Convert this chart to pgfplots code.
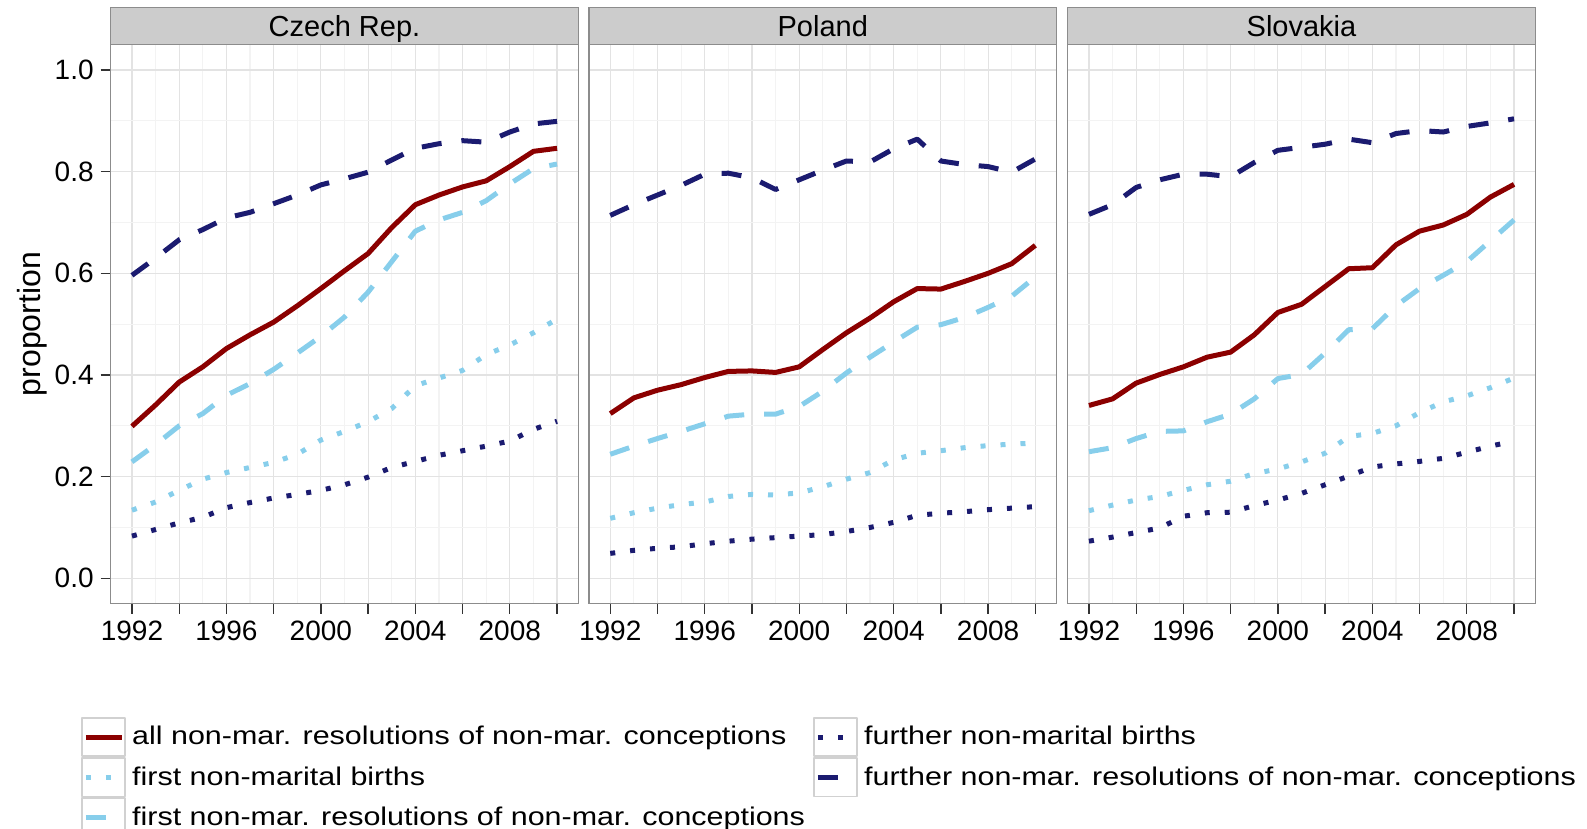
\documentclass[border=0pt]{standalone}
\usepackage{fontspec}
\setmainfont{Liberation Sans}
\newfontfamily\legendfont[FakeStretch=1.19]{Liberation Sans}
\usepackage{pgfplots}
\usepackage{pgfplotstable}
\pgfplotsset{compat=1.18}
\definecolor{cred}{HTML}{8B0000}
\definecolor{csky}{HTML}{87CEEB}
\definecolor{cnavy}{HTML}{1B1B70}
\definecolor{gmaj}{HTML}{E3E3E3}
\definecolor{gmin}{HTML}{F3F3F3}
\definecolor{cframe}{HTML}{8C8C8C}
\definecolor{cstrip}{HTML}{CCCCCC}

% year, all non-mar. resolutions, first births, first resolutions, further births, further resolutions
\pgfplotstableread{
year all fb fr nb nr
1992 0.299 0.134 0.229 0.083 0.596
1993 0.341 0.150 0.263 0.096 0.630
1994 0.386 0.173 0.300 0.109 0.666
1995 0.416 0.195 0.324 0.120 0.686
1996 0.452 0.208 0.360 0.139 0.709
1997 0.479 0.218 0.383 0.149 0.720
1998 0.504 0.228 0.411 0.158 0.737
1999 0.536 0.244 0.443 0.165 0.754
2000 0.570 0.272 0.476 0.173 0.774
2001 0.605 0.289 0.514 0.184 0.786
2002 0.639 0.308 0.563 0.199 0.799
2003 0.690 0.334 0.623 0.218 0.823
2004 0.735 0.379 0.683 0.230 0.846
2005 0.754 0.394 0.705 0.242 0.855
2006 0.770 0.409 0.720 0.251 0.861
2007 0.782 0.440 0.743 0.260 0.858
2008 0.810 0.459 0.776 0.270 0.878
2009 0.840 0.483 0.806 0.293 0.894
2010 0.846 0.510 0.815 0.309 0.899
}\czech

\pgfplotstableread{
year all fb fr nb nr
1992 0.324 0.118 0.244 0.049 0.714
1993 0.355 0.129 0.260 0.055 0.735
1994 0.370 0.138 0.275 0.059 0.754
1995 0.381 0.145 0.289 0.062 0.773
1996 0.395 0.150 0.304 0.068 0.795
1997 0.407 0.161 0.319 0.073 0.797
1998 0.408 0.165 0.323 0.077 0.788
1999 0.405 0.164 0.323 0.080 0.765
2000 0.416 0.168 0.338 0.083 0.784
2001 0.450 0.180 0.368 0.086 0.803
2002 0.483 0.195 0.404 0.092 0.821
2003 0.512 0.208 0.435 0.100 0.819
2004 0.544 0.233 0.465 0.110 0.845
2005 0.570 0.246 0.494 0.124 0.864
2006 0.569 0.251 0.499 0.128 0.821
2007 0.584 0.257 0.513 0.131 0.814
2008 0.600 0.261 0.533 0.135 0.810
2009 0.619 0.264 0.555 0.138 0.799
2010 0.655 0.266 0.593 0.141 0.825
}\poland

\pgfplotstableread{
year all fb fr nb nr
1992 0.340 0.133 0.249 0.073 0.716
1993 0.353 0.144 0.257 0.081 0.735
1994 0.384 0.154 0.275 0.090 0.769
1995 0.401 0.161 0.289 0.099 0.784
1996 0.416 0.173 0.290 0.122 0.795
1997 0.435 0.184 0.308 0.129 0.795
1998 0.445 0.191 0.323 0.130 0.790
1999 0.479 0.206 0.353 0.143 0.818
2000 0.523 0.215 0.393 0.154 0.842
2001 0.539 0.229 0.401 0.167 0.848
2002 0.574 0.246 0.443 0.184 0.854
2003 0.609 0.279 0.489 0.201 0.864
2004 0.611 0.285 0.491 0.219 0.857
2005 0.656 0.300 0.536 0.225 0.875
2006 0.683 0.326 0.570 0.230 0.881
2007 0.695 0.347 0.596 0.236 0.878
2008 0.716 0.359 0.623 0.248 0.889
2009 0.750 0.375 0.664 0.260 0.896
2010 0.775 0.394 0.705 0.270 0.904
}\slovakia

\pgfplotsset{
  facet/.style={
    scale only axis, width=233.8pt, height=279.55pt,
    xmin=1991.1, xmax=2010.9, ymin=-0.05, ymax=1.05,
    xtick={1992,1994,...,2010},
    xticklabels={1992,,1996,,2000,,2004,,2008,},
    minor xtick={1993,1995,...,2009},
    ytick={0,0.2,0.4,0.6,0.8,1.0},
    minor ytick={0.1,0.3,0.5,0.7,0.9},
    grid=both,
    major grid style={gmaj, line width=0.6pt},
    minor grid style={gmin, line width=0.6pt},
    tick pos=left,
    tick align=outside, major tick length=5pt, minor tick length=0pt,
    tick style={black!80, line width=0.65pt},
    axis line style={cframe, line width=0.6pt},
    ticklabel style={font=\fontsize{14}{16}\selectfont},
    /pgf/number format/assume math mode=true,
    yticklabel style={/pgf/number format/.cd, fixed, fixed zerofill, precision=1},
    every axis plot/.append style={line width=2.5pt, line cap=butt, line join=round},
  },
  strip/.style={
    after end axis/.append code={
      \node[fill=cstrip, draw=cframe, line width=0.6pt, minimum width=233.8pt,
        minimum height=18.65pt, inner sep=0pt, outer sep=0pt, anchor=south,
        text height=10.4pt, text depth=0pt,
        font=\fontsize{14.5}{16}\selectfont] at (rel axis cs:0.5,1) {#1};
    }
  },
  sall/.style={cred, solid},
  sfb/.style={csky, dash pattern=on 2.5pt off 7.5pt},
  sfr/.style={csky, dash pattern=on 10pt off 10pt},
  snb/.style={cnavy, dash pattern=on 2.5pt off 7.5pt},
  snr/.style={cnavy, dash pattern=on 10pt off 10pt},
}

\begin{document}
\begin{tikzpicture}
\useasboundingbox (0,0) rectangle (793.5pt,-414.5pt);

\begin{axis}[facet, at={(55.35pt,-301.85pt)}, anchor=south west,
  strip={Czech Rep.},
  ylabel={proportion},
  every axis y label/.style={at={(axis description cs:-0.168,0.5)}, rotate=90, anchor=center, font=\fontsize{16}{18}\selectfont},
  legend columns=2,
  legend cell align=left,
  legend style={at={(-0.0635,-0.2027)}, anchor=north west, draw=none, fill=none,
    inner sep=0pt, outer sep=0pt, row sep=0pt,
    font=\legendfont\fontsize{12.8}{14}\selectfont,
    nodes={inner sep=1pt},
    /tikz/every odd column/.append style={column sep=2.2pt},
    /tikz/every even column/.append style={column sep=3pt}},
  legend image code/.code={
    \draw[solid, line width=0.9pt, black!18, fill=white] (0pt,-9.6pt) rectangle (21.5pt,9.6pt);
    \draw[#1] (2pt,0pt) -- (19.8pt,0pt);
  },
]
\addplot[sall] table[x=year, y=all] {\czech};
\addlegendentry{all non-mar. resolutions of non-mar. conceptions}
\addplot[snb] table[x=year, y=nb] {\czech};
\addlegendentry{further non-marital births}
\addplot[sfb] table[x=year, y=fb] {\czech};
\addlegendentry{first non-marital births}
\addplot[snr] table[x=year, y=nr] {\czech};
\addlegendentry{further non-mar. resolutions of non-mar. conceptions}
\addplot[sfr] table[x=year, y=fr] {\czech};
\addlegendentry{first non-mar. resolutions of non-mar. conceptions}
\end{axis}

\begin{axis}[facet, at={(294.5pt,-301.85pt)}, anchor=south west,
  strip={Poland}, yticklabels={}, ytick style={draw=none}]
\addplot[sall] table[x=year, y=all] {\poland};
\addplot[snb] table[x=year, y=nb] {\poland};
\addplot[sfb] table[x=year, y=fb] {\poland};
\addplot[snr] table[x=year, y=nr] {\poland};
\addplot[sfr] table[x=year, y=fr] {\poland};
\end{axis}

\begin{axis}[facet, at={(533.85pt,-301.85pt)}, anchor=south west,
  strip={Slovakia}, yticklabels={}, ytick style={draw=none}]
\addplot[sall] table[x=year, y=all] {\slovakia};
\addplot[snb] table[x=year, y=nb] {\slovakia};
\addplot[sfb] table[x=year, y=fb] {\slovakia};
\addplot[snr] table[x=year, y=nr] {\slovakia};
\addplot[sfr] table[x=year, y=fr] {\slovakia};
\end{axis}
\end{tikzpicture}
\end{document}
